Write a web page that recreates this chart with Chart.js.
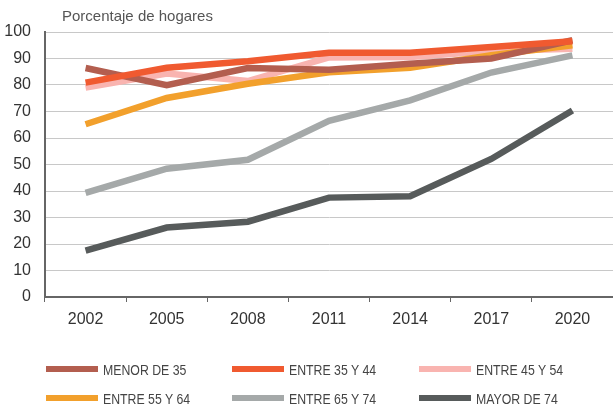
<!DOCTYPE html>
<html>
<head>
<meta charset="utf-8">
<script src="https://cdn.jsdelivr.net/npm/chart.js@4.4.1/dist/chart.umd.min.js"></script>
<style>
  html, body { margin: 0; padding: 0; background: #fff; }
  #wrap { position: relative; width: 613px; height: 409px; }
  #titulo { position: absolute; left: 62px; top: 7px; font: 15px "Liberation Sans", Arial, sans-serif; color: #555; }
  #leyenda { position: absolute; left: 0; top: 0; width: 613px; height: 409px; pointer-events: none; }
  .item { position: absolute; display: flex; align-items: center; font: 15px "Liberation Sans", Arial, sans-serif; color: #444; white-space: nowrap; }
  .swatch { width: 52px; height: 6px; margin-right: 5px; }
  .txt { display: inline-block; transform: scaleX(0.82); transform-origin: left center; }
</style>
</head>
<body>
<div id="wrap">
  <canvas id="grafico" width="613" height="409"></canvas>
  <div id="titulo">Porcentaje de hogares</div>
  <div id="leyenda"></div>
</div>
<script>
const anios = ['2002', '2005', '2008', '2011', '2014', '2017', '2020'];

const menor35   = [86.4, 79.9, 86.4, 85.8, 88.0, 90.0, 96.9];
const entre3544 = [80.9, 86.5, 89.0, 92.2, 92.2, 94.3, 96.5];
const entre4554 = [79.0, 84.3, 81.5, 90.4, 90.6, 92.8, 93.7];
const entre5564 = [65.2, 75.1, 80.5, 84.8, 86.5, 91.2, 95.0];
const entre6574 = [39.3, 48.4, 51.8, 66.5, 74.2, 84.7, 91.2];
const mayor74   = [17.5, 26.2, 28.4, 37.5, 38.0, 52.1, 70.4];

const etiquetas = ['MENOR DE 35', 'ENTRE 35 Y 44', 'ENTRE 45 Y 54', 'ENTRE 55 Y 64', 'ENTRE 65 Y 74', 'MAYOR DE 74'];
const colores = ['#b35e4f', '#f05a30', '#f9b4b0', '#f2a02c', '#a5a9a9', '#575b5b'];
const series = [menor35, entre3544, entre4554, entre5564, entre6574, mayor74];

// orden de dibujo: el gris oscuro abajo, los naranjas arriba
const ordenDibujo = [2, 1, 4, 3, 5, 6];

const datasets = series.map((valores, i) => ({
    label: etiquetas[i],
    data: valores,
    borderColor: colores[i],
    backgroundColor: colores[i],
    borderWidth: 6.5,
    pointRadius: 0,
    fill: false,
    tension: 0,
    order: ordenDibujo[i]
}));

// leyenda en html, tres columnas
const leyenda = document.getElementById('leyenda');
const colX = [46, 232, 419];
const filaY = [369, 398];
etiquetas.forEach((txt, i) => {
    const item = document.createElement('div');
    item.className = 'item';
    item.style.left = colX[i % 3] + 'px';
    item.style.top = (filaY[Math.floor(i / 3)] - 9) + 'px';
    item.style.height = '18px';
    item.innerHTML = '<span class="swatch" style="background:' + colores[i] + '"></span><span class="txt">' + txt + '</span>';
    leyenda.appendChild(item);
});

const fuenteEje = { family: '"Liberation Sans", Arial, sans-serif', size: 16 };

new Chart(document.getElementById('grafico'), {
    type: 'line',
    data: { labels: anios, datasets: datasets },
    options: {
        responsive: false,
        animation: false,
        layout: { padding: { top: 32, right: 0, bottom: 0, left: 0 } },
        plugins: { legend: { display: false }, tooltip: { enabled: false } },
        scales: {
            x: {
                offset: true,
                grid: { offset: true, drawOnChartArea: false, drawTicks: true, tickLength: 5, color: '#666', lineWidth: 1 },
                border: { color: '#666', width: 2 },
                ticks: { font: fuenteEje, color: '#333', padding: 8, maxRotation: 0 },
                afterFit: (s) => { s.height = 112; }
            },
            y: {
                min: 0,
                max: 100,
                ticks: { stepSize: 10, font: fuenteEje, color: '#333', padding: 14 },
                grid: { drawTicks: false, color: '#c8c8c8', lineWidth: 1 },
                border: { color: '#666', width: 2 },
                afterFit: (s) => { s.width = 45; }
            }
        }
    }
});
</script>
</body>
</html>
